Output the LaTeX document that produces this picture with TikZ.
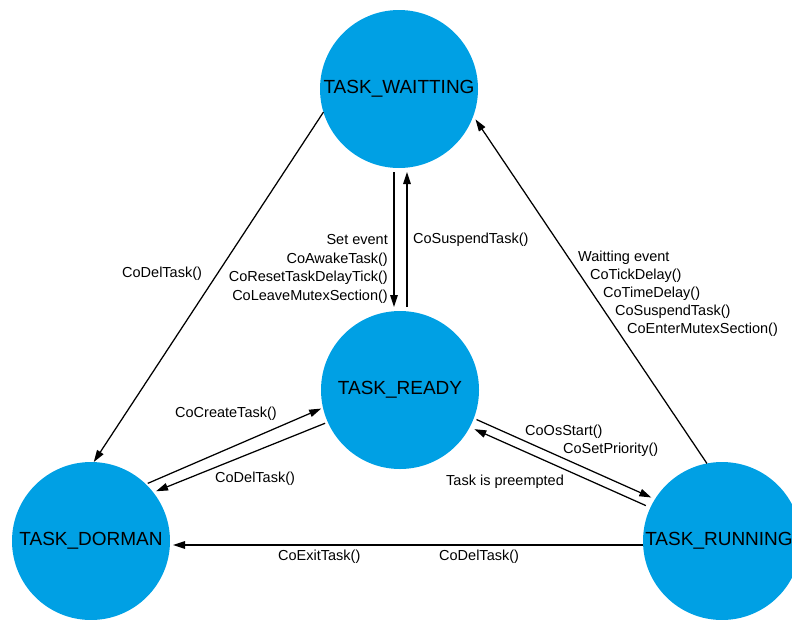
\documentclass[tikz,border=0pt]{standalone}
\usepackage{fontspec}
\setmainfont{Liberation Sans}
\usetikzlibrary{arrows.meta,calc}
\definecolor{stateblue}{RGB}{0,160,228}
\begin{document}
\begin{tikzpicture}[x=1pt,y=-1pt,
  state/.style={circle,fill=stateblue,minimum size=158pt,inner sep=0pt,outer sep=0pt,
    font=\fontsize{19}{22}\selectfont},
  lbl/.style={inner sep=0pt,font=\fontsize{14.5}{18.7}\selectfont},
  arr/.style={-{Triangle[length=12pt,width=7.5pt]},line width=1.25pt}]
\useasboundingbox (0,0) rectangle (792,619);
\clip (0,0) rectangle (792,619);

% task states
\node[state] (wait)  at (399,89)  {TASK\_WAITTING};
\node[state] (ready) at (400,390) {TASK\_READY};
\node[state] (dorm)  at (91,541)  {TASK\_DORMAN};
\node[state] (run)   at (722,541) {\kern-6pt TASK\_RUNNING};

% transitions
\draw[arr] (wait.197) -- (dorm.88);
\draw[arr,shorten <=4pt,shorten >=4pt] ([xshift=-5pt]wait.south) -- ([xshift=-5pt]wait.south |- ready.north);
\draw[arr,shorten <=4pt,shorten >=4pt] ([xshift=8pt]wait.south |- ready.north) -- ([xshift=8pt]wait.south);
\draw[arr,shorten >=4pt] (run.101) -- (wait.340);
\draw[arr,shorten <=2pt,shorten >=2pt] (dorm.46) -- (ready.193);
\draw[arr,shorten <=3pt,shorten >=3pt] (ready.204) -- (dorm.38);
\draw[arr,shorten <=3pt,shorten >=4pt] (ready.339) -- (run.148);
\draw[arr,shorten <=5pt,shorten >=5pt] (run.155) -- (ready.332);
\draw[arr,shorten >=3pt] ([yshift=-4pt]run.west) -- ([yshift=-4pt]run.west -| dorm.east);

% transition labels
\node[lbl,anchor=west] (l1) at (122,274) {CoDelTask()};
\node[lbl,anchor=east,align=right] (l2) at (388,269)
  {Set event\\CoAwakeTask()\\CoResetTaskDelayTick()\\CoLeaveMutexSection()};
\node[lbl,anchor=west] (l3) at (413,240) {CoSuspendTask()};
\node[lbl,anchor=west] (l4a) at (578,258) {Waitting event};
\node[lbl,anchor=west] (l4b) at (590,276) {CoTickDelay()};
\node[lbl,anchor=west] (l4c) at (603,294) {CoTimeDelay()};
\node[lbl,anchor=west] (l4d) at (615,312) {CoSuspendTask()};
\node[lbl,anchor=west] (l4e) at (627,330) {CoEnterMutexSection()};
\node[lbl,anchor=west] (l5) at (175,414) {CoCreateTask()};
\node[lbl,anchor=west] (l6) at (215,479) {CoDelTask()};
\node[lbl,anchor=west] (l7a) at (525,432) {CoOsStart()};
\node[lbl,anchor=west] (l7b) at (563,450) {CoSetPriority()};
\node[lbl,anchor=west] (l8) at (446,482) {Task is preempted};
\node[lbl,anchor=west] (l9a) at (278,557) {CoExitTask()};
\node[lbl,anchor=west] (l9b) at (439,557) {CoDelTask()};
\end{tikzpicture}
\end{document}
